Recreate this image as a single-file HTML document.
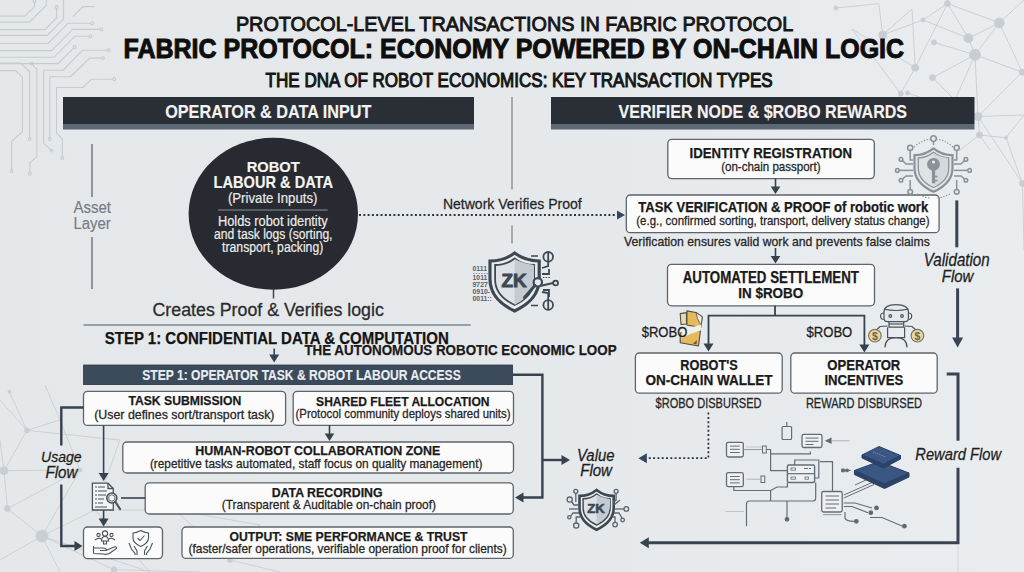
<!DOCTYPE html>
<html><head><meta charset="utf-8"><style>
html,body{margin:0;padding:0;background:#e6e9ec;}
svg{display:block;font-family:"Liberation Sans",sans-serif;}
</style></head><body>
<svg width="1024" height="572" viewBox="0 0 1024 572">
<defs><linearGradient id="bgg" x1="0" y1="0" x2="1" y2="0"><stop offset="0" stop-color="#e5e8eb"/><stop offset="0.55" stop-color="#e6e9ec"/><stop offset="1" stop-color="#eaedf0"/></linearGradient></defs>
<rect x="0" y="0" width="1024" height="572" fill="url(#bgg)"/>
<g fill="none" stroke="#c6cbd0" stroke-width="1.1">
<path d="M0,16.1 L24.9,16.1 L34.5,6.6 L34.5,1.5"/>
<path d="M0,22.1 L29.6,22.1 L46.2,5.5 L46.2,0"/>
<path d="M0,29.6 L44.8,29.6 L56.5,17.9 L56.5,8.3"/>
<path d="M0,35.4 L47.3,35.4 L63.6,19.1 L63.6,0"/>
<path d="M73,16.6 L83,6.6 L94.6,6.6"/>
<path d="M0,43.5 L48.1,43.5 L68.1,23.2 L90.8,23.2"/>
<path d="M0,50.6 L51.5,50.6 L72.7,29.4 L100,29.4"/>
<path d="M0,57.3 L54,57.3 L75,36.2 L89.2,36.2"/>
<path d="M0,63.6 L58.1,63.6 L73.8,47.9"/>
<path d="M32.5,64.6 L36.9,69 L36.9,156.4 L29.9,163 L29.9,172.5"/>
<path d="M0,63 L20.8,63 L29.6,71.8 L29.6,137.7"/>
<path d="M0,70.6 L15.8,70.6 L22.4,77.2 L22.4,131.5 L11.6,141.5 L11.6,170"/>
<path d="M43.5,143.1 L43.5,70.2 L63.1,70.2 L82.5,50.3 L107.5,50.3"/>
<path d="M51.5,150.6 L43.5,143.1"/>
<path d="M49.8,137.7 L49.8,76.7 L70.6,76.7 L89.7,58.1 L101.6,58.1"/>
<path d="M62.3,156.7 L62.3,139 L56.5,133.1 L56.5,87.5 L83,87.5 L91.3,79.2 L112.9,79.2"/>
<circle cx="34.5" cy="1" r="1.4"/>
<circle cx="56.5" cy="7" r="1.4"/>
<circle cx="92.1" cy="23.2" r="1.4"/>
<circle cx="101.3" cy="29.4" r="1.4"/>
<circle cx="90.5" cy="36.2" r="1.4"/>
<circle cx="74.7" cy="47" r="1.4"/>
<circle cx="31.5" cy="63.6" r="1.4"/>
<circle cx="108.8" cy="50.3" r="1.4"/>
<circle cx="102.9" cy="58.1" r="1.4"/>
<circle cx="114.2" cy="79.2" r="1.4"/>
<circle cx="11.6" cy="171.3" r="1.4"/>
<circle cx="29.6" cy="139" r="1.4"/>
<circle cx="29.9" cy="173.8" r="1.4"/>
<circle cx="51.5" cy="150.6" r="1.4"/>
<circle cx="49.8" cy="139" r="1.4"/>
<circle cx="62.3" cy="158" r="1.4"/>
</g>
<g stroke="#ccd0d4" stroke-width="1" fill="#c8cdd2">
<line x1="835.9" y1="8" x2="878.8" y2="3.6"/>
<line x1="878.8" y1="3.6" x2="882.7" y2="34.9"/>
<line x1="882.7" y1="34.9" x2="912" y2="9"/>
<line x1="912" y1="9" x2="915.2" y2="67.7"/>
<line x1="882.7" y1="34.9" x2="923" y2="19.9"/>
<line x1="923" y1="19.9" x2="947.5" y2="3.6"/>
<line x1="923" y1="19.9" x2="968.4" y2="38.2"/>
<line x1="947.5" y1="3.6" x2="968.4" y2="38.2"/>
<line x1="947.5" y1="3.6" x2="915.2" y2="67.7"/>
<line x1="947.5" y1="3.6" x2="999.3" y2="22.9"/>
<line x1="968.4" y1="38.2" x2="999.3" y2="22.9"/>
<line x1="968.4" y1="38.2" x2="975" y2="54.8"/>
<line x1="999.3" y1="22.9" x2="975" y2="54.8"/>
<line x1="933.9" y1="42.4" x2="975" y2="54.8"/>
<line x1="975" y1="54.8" x2="932.5" y2="77.7"/>
<line x1="975" y1="54.8" x2="1022.2" y2="72.1"/>
<line x1="999.3" y1="22.9" x2="1022.2" y2="72.1"/>
<line x1="999.3" y1="22.9" x2="1024" y2="0"/>
<line x1="852" y1="29" x2="900.7" y2="93.6"/>
<line x1="915.2" y1="67.7" x2="900.7" y2="93.6"/>
<line x1="852" y1="29" x2="915.2" y2="67.7"/>
<line x1="975" y1="54.8" x2="955" y2="100"/>
<line x1="932.5" y1="77.7" x2="955" y2="100"/>
<line x1="955" y1="100" x2="978" y2="116.5"/>
<line x1="978" y1="116.5" x2="1024" y2="115"/>
<line x1="978" y1="116.5" x2="979.5" y2="135"/>
<line x1="975" y1="54.8" x2="978" y2="116.5"/>
<line x1="979.5" y1="135" x2="990" y2="150"/>
<line x1="907.5" y1="93" x2="978" y2="116.5"/>
<line x1="979.5" y1="135" x2="960" y2="150"/>
<line x1="1022.2" y1="72.1" x2="978" y2="116.5"/>
<line x1="979.5" y1="135" x2="1006" y2="137.7"/>
<line x1="1006" y1="137.7" x2="1022.5" y2="183.5"/>
<line x1="978" y1="116.5" x2="1022.5" y2="183.5"/>
<line x1="1022.5" y1="183.5" x2="1024" y2="250"/>
<line x1="1006" y1="137.7" x2="1024" y2="115"/>
<circle cx="835.9" cy="8" r="2"/>
<circle cx="882.7" cy="34.9" r="4"/>
<circle cx="923" cy="19.9" r="2"/>
<circle cx="947.5" cy="3.6" r="3"/>
<circle cx="968.4" cy="38.2" r="4.5"/>
<circle cx="999.3" cy="22.9" r="5"/>
<circle cx="975" cy="54.8" r="5.5"/>
<circle cx="933.9" cy="42.4" r="2.5"/>
<circle cx="915.2" cy="67.7" r="3.5"/>
<circle cx="932.5" cy="77.7" r="3"/>
<circle cx="900.7" cy="93.6" r="2.5"/>
<circle cx="1022.2" cy="72.1" r="3"/>
<circle cx="907.5" cy="93" r="2"/>
<circle cx="978" cy="116.5" r="4"/>
<circle cx="979.5" cy="135" r="3"/>
<circle cx="1006" cy="137.7" r="1.5"/>
<circle cx="1022.5" cy="183.5" r="3"/>
</g>
<g stroke="#cdd1d5" stroke-width="1" fill="#c9ced2">
<line x1="9.4" y1="391.8" x2="26.9" y2="430.4"/>
<line x1="26.9" y1="430.4" x2="4" y2="470.7"/>
<line x1="26.9" y1="430.4" x2="60" y2="420"/>
<line x1="60" y1="420" x2="80" y2="470"/>
<line x1="4" y1="470.7" x2="7.4" y2="508.6"/>
<line x1="7.4" y1="508.6" x2="42" y2="536.1"/>
<line x1="42" y1="536.1" x2="114" y2="569.7"/>
<line x1="4" y1="470.7" x2="80" y2="470"/>
<line x1="80" y1="470" x2="42" y2="536.1"/>
<line x1="26.9" y1="430.4" x2="120" y2="440"/>
<line x1="42" y1="536.1" x2="95" y2="510"/>
<line x1="95" y1="510" x2="175" y2="510"/>
<line x1="175" y1="510" x2="230" y2="560"/>
<line x1="230" y1="560" x2="260" y2="525"/>
<line x1="42" y1="536.1" x2="0" y2="560"/>
<line x1="42" y1="536.1" x2="60" y2="572"/>
<line x1="95" y1="510" x2="150" y2="572"/>
<line x1="0" y1="440" x2="4" y2="470.7"/>
<line x1="0" y1="400" x2="26.9" y2="430.4"/>
<line x1="45" y1="385" x2="60" y2="420"/>
<line x1="7.4" y1="508.6" x2="80" y2="470"/>
<line x1="114" y1="569.7" x2="200" y2="572"/>
<line x1="175" y1="510" x2="260" y2="525"/>
<line x1="42" y1="536.1" x2="150" y2="572"/>
<line x1="230" y1="560" x2="280" y2="572"/>
<line x1="95" y1="510" x2="120" y2="440"/>
<circle cx="9.4" cy="391.8" r="1.5"/>
<circle cx="26.9" cy="430.4" r="2.5"/>
<circle cx="4" cy="470.7" r="4"/>
<circle cx="7.4" cy="508.6" r="3"/>
<circle cx="42" cy="536.1" r="6"/>
<circle cx="114" cy="569.7" r="3"/>
<circle cx="80" cy="470" r="2"/>
<circle cx="175" cy="510" r="2"/>
<circle cx="230" cy="560" r="2.5"/>
</g>
<text x="235.9" y="30.8" font-size="20.35" font-weight="normal" font-style="normal" fill="#161616" textLength="557.3" lengthAdjust="spacingAndGlyphs" stroke="#161616" stroke-width="0.9" paint-order="stroke">PROTOCOL-LEVEL TRANSACTIONS IN FABRIC PROTOCOL</text>
<text x="123.5" y="57.6" font-size="28.05" font-weight="bold" font-style="normal" fill="#0e0e0e" textLength="780.6" lengthAdjust="spacingAndGlyphs" stroke="#0e0e0e" stroke-width="1.0" paint-order="stroke">FABRIC PROTOCOL: ECONOMY POWERED BY ON-CHAIN LOGIC</text>
<text x="265.6" y="86.6" font-size="19.33" font-weight="normal" font-style="normal" fill="#161616" textLength="507.1" lengthAdjust="spacingAndGlyphs" stroke="#161616" stroke-width="1.05" paint-order="stroke">THE DNA OF ROBOT ECONOMICS: KEY TRANSACTION TYPES</text>
<rect x="63" y="97" width="411" height="27" fill="#2a2e36"/>
<rect x="63" y="124" width="411" height="5.5" fill="#5c6874"/>
<rect x="551" y="97" width="423.5" height="27" fill="#2a2e36"/>
<rect x="551" y="124" width="423.5" height="5.5" fill="#5c6874"/>
<text x="165.2" y="118.0" font-size="19.19" font-weight="bold" font-style="normal" fill="#f2f2f2" textLength="206.3" lengthAdjust="spacingAndGlyphs" stroke="#f2f2f2" stroke-width="0.15" paint-order="stroke">OPERATOR &amp; DATA INPUT</text>
<text x="618.6" y="118.4" font-size="19.04" font-weight="bold" font-style="normal" fill="#f2f2f2" textLength="288.4" lengthAdjust="spacingAndGlyphs" stroke="#f2f2f2" stroke-width="0.15" paint-order="stroke">VERIFIER NODE &amp; $ROBO REWARDS</text>
<path d="M512.0,97.0 L512.0,189.5" fill="none" stroke="#8d9399" stroke-width="1.5" stroke-linecap="butt" stroke-linejoin="miter"/>
<path d="M512.0,225.5 L512.0,243.5" fill="none" stroke="#8d9399" stroke-width="1.5" stroke-linecap="butt" stroke-linejoin="miter"/>
<path d="M92.0,144.0 L92.0,197.0" fill="none" stroke="#7a8188" stroke-width="1.6" stroke-linecap="butt" stroke-linejoin="miter"/>
<path d="M92.0,237.0 L92.0,289.0" fill="none" stroke="#7a8188" stroke-width="1.6" stroke-linecap="butt" stroke-linejoin="miter"/>
<text x="73.4" y="212.5" font-size="15.70" font-weight="normal" font-style="normal" fill="#737b83" textLength="37.5" lengthAdjust="spacingAndGlyphs" stroke="#737b83" stroke-width="0.15" paint-order="stroke">Asset</text>
<text x="73.4" y="229.0" font-size="15.70" font-weight="normal" font-style="normal" fill="#737b83" textLength="37.3" lengthAdjust="spacingAndGlyphs" stroke="#737b83" stroke-width="0.15" paint-order="stroke">Layer</text>
<ellipse cx="273.3" cy="213.8" rx="84.7" ry="76" fill="#272a30"/>
<text x="246.7" y="171.7" font-size="15.55" font-weight="bold" font-style="normal" fill="#f4f4f4" textLength="53.1" lengthAdjust="spacingAndGlyphs" stroke="#f4f4f4" stroke-width="0.15" paint-order="stroke">ROBOT</text>
<text x="213.6" y="187.9" font-size="15.99" font-weight="bold" font-style="normal" fill="#f4f4f4" textLength="119.4" lengthAdjust="spacingAndGlyphs" stroke="#f4f4f4" stroke-width="0.15" paint-order="stroke">LABOUR &amp; DATA</text>
<text x="227.9" y="203.3" font-size="14.10" font-weight="normal" font-style="normal" fill="#e8e8e8" textLength="89.6" lengthAdjust="spacingAndGlyphs" stroke="#e8e8e8" stroke-width="0.2" paint-order="stroke">(Private Inputs)</text>
<path d="M218.0,210.0 L327.7,210.0" fill="none" stroke="#8a8f95" stroke-width="1.2" stroke-linecap="butt" stroke-linejoin="miter"/>
<text x="217.9" y="225.5" font-size="14.39" font-weight="normal" font-style="normal" fill="#ececec" textLength="109.8" lengthAdjust="spacingAndGlyphs" stroke="#ececec" stroke-width="0.2" paint-order="stroke">Holds robot identity</text>
<text x="214.0" y="238.7" font-size="14.39" font-weight="normal" font-style="normal" fill="#ececec" textLength="118.5" lengthAdjust="spacingAndGlyphs" stroke="#ececec" stroke-width="0.2" paint-order="stroke">and task logs (sorting,</text>
<text x="222.1" y="251.7" font-size="14.39" font-weight="normal" font-style="normal" fill="#ececec" textLength="101.2" lengthAdjust="spacingAndGlyphs" stroke="#ececec" stroke-width="0.2" paint-order="stroke">transport, packing)</text>
<path d="M273.5,289.0 L273.5,298.5" fill="none" stroke="#3c4754" stroke-width="1.5" stroke-linecap="butt" stroke-linejoin="miter"/>
<path d="M359.0,215.0 L617.0,215.0" fill="none" stroke="#2f3640" stroke-width="1.8" stroke-dasharray="2 2.3" stroke-linecap="butt" stroke-linejoin="miter"/>
<polygon points="625.0,215.0 617.0,210.4 617.0,219.6" fill="#34465a"/>
<text x="442.9" y="209.2" font-size="15.55" font-weight="normal" font-style="normal" fill="#262626" textLength="138.8" lengthAdjust="spacingAndGlyphs" stroke="#262626" stroke-width="0.28" paint-order="stroke">Network Verifies Proof</text>
<text x="152.5" y="315.6" font-size="18.02" font-weight="normal" font-style="normal" fill="#2b2b2b" textLength="231.3" lengthAdjust="spacingAndGlyphs" stroke="#2b2b2b" stroke-width="0.28" paint-order="stroke">Creates Proof &amp; Verifies logic</text>
<path d="M83.6,325.0 L470.7,325.0" fill="none" stroke="#7f858c" stroke-width="1.4" stroke-linecap="butt" stroke-linejoin="miter"/>
<text x="104.7" y="343.9" font-size="16.42" font-weight="bold" font-style="normal" fill="#141414" textLength="344.1" lengthAdjust="spacingAndGlyphs" stroke="#141414" stroke-width="0.25" paint-order="stroke">STEP 1: CONFIDENTIAL DATA &amp; COMPUTATION</text>
<text x="304.4" y="354.5" font-size="14.10" font-weight="bold" font-style="normal" fill="#1a1a1a" textLength="312.2" lengthAdjust="spacingAndGlyphs" stroke="#1a1a1a" stroke-width="0.25" paint-order="stroke">THE AUTONOMOUS ROBOTIC ECONOMIC LOOP</text>
<path d="M274.2,348.5 L274.2,356.0" fill="none" stroke="#3c4754" stroke-width="1.6" stroke-linecap="butt" stroke-linejoin="miter"/>
<polygon points="274.2,362.5 269.2,354.5 279.2,354.5" fill="#36424e"/>
<rect x="83.6" y="365" width="429" height="19.6" fill="#3c4b5c" stroke="#2b3744" stroke-width="0.8"/>
<text x="142.3" y="380.4" font-size="14.10" font-weight="bold" font-style="normal" fill="#e9edf0" textLength="318.4" lengthAdjust="spacingAndGlyphs" stroke="#e9edf0" stroke-width="0.15" paint-order="stroke">STEP 1: OPERATOR TASK &amp; ROBOT LABOUR ACCESS</text>
<rect x="83.5" y="391.3" width="202.1" height="34.1" rx="4" fill="#fbfbfb" stroke="#5d646b" stroke-width="1.3"/>
<text x="128.4" y="405.2" font-size="13.66" font-weight="bold" font-style="normal" fill="#1a1a1a" textLength="112.9" lengthAdjust="spacingAndGlyphs" stroke="#1a1a1a" stroke-width="0.25" paint-order="stroke">TASK SUBMISSION</text>
<text x="94.2" y="418.7" font-size="12.60" font-weight="normal" font-style="normal" fill="#262626" textLength="180.3" lengthAdjust="spacingAndGlyphs" stroke="#262626" stroke-width="0.28" paint-order="stroke">(User defines sort/transport task)</text>
<rect x="293.2" y="391.3" width="220.3" height="34.0" rx="4" fill="#fbfbfb" stroke="#5d646b" stroke-width="1.3"/>
<text x="316.1" y="405.6" font-size="13.66" font-weight="bold" font-style="normal" fill="#1a1a1a" textLength="173.4" lengthAdjust="spacingAndGlyphs" stroke="#1a1a1a" stroke-width="0.25" paint-order="stroke">SHARED FLEET ALLOCATION</text>
<text x="295.5" y="417.8" font-size="12.60" font-weight="normal" font-style="normal" fill="#262626" textLength="215.0" lengthAdjust="spacingAndGlyphs" stroke="#262626" stroke-width="0.28" paint-order="stroke">(Protocol community deploys shared units)</text>
<path d="M329.5,425.3 L329.5,434.0" fill="none" stroke="#36424e" stroke-width="1.6" stroke-linecap="butt" stroke-linejoin="miter"/>
<polygon points="329.5,441.0 324.7,433.5 334.3,433.5" fill="#36424e"/>
<rect x="122.8" y="442.0" width="390.7" height="31.0" rx="4" fill="#fbfbfb" stroke="#5d646b" stroke-width="1.3"/>
<text x="195.3" y="455.2" font-size="13.08" font-weight="bold" font-style="normal" fill="#1a1a1a" textLength="244.9" lengthAdjust="spacingAndGlyphs" stroke="#1a1a1a" stroke-width="0.25" paint-order="stroke">HUMAN-ROBOT COLLABORATION ZONE</text>
<text x="149.9" y="468.2" font-size="12.60" font-weight="normal" font-style="normal" fill="#262626" textLength="332.5" lengthAdjust="spacingAndGlyphs" stroke="#262626" stroke-width="0.28" paint-order="stroke">(repetitive tasks automated, staff focus on quality management)</text>
<rect x="145.2" y="482.9" width="368.1" height="31.1" rx="4" fill="#fbfbfb" stroke="#5d646b" stroke-width="1.3"/>
<text x="271.7" y="497.0" font-size="13.66" font-weight="bold" font-style="normal" fill="#1a1a1a" textLength="110.9" lengthAdjust="spacingAndGlyphs" stroke="#1a1a1a" stroke-width="0.25" paint-order="stroke">DATA RECORDING</text>
<text x="221.8" y="509.4" font-size="12.60" font-weight="normal" font-style="normal" fill="#262626" textLength="214.2" lengthAdjust="spacingAndGlyphs" stroke="#262626" stroke-width="0.28" paint-order="stroke">(Transparent &amp; Auditable on-chain proof)</text>
<rect x="83.5" y="527.0" width="79.0" height="31.6" rx="4" fill="#fbfbfb" stroke="#5d646b" stroke-width="1.3"/>
<rect x="182.0" y="527.0" width="331.3" height="31.4" rx="4" fill="#fbfbfb" stroke="#5d646b" stroke-width="1.3"/>
<text x="229.5" y="540.8" font-size="13.66" font-weight="bold" font-style="normal" fill="#1a1a1a" textLength="238.0" lengthAdjust="spacingAndGlyphs" stroke="#1a1a1a" stroke-width="0.25" paint-order="stroke">OUTPUT: SME PERFORMANCE &amp; TRUST</text>
<text x="188.5" y="553.2" font-size="12.60" font-weight="normal" font-style="normal" fill="#262626" textLength="318.2" lengthAdjust="spacingAndGlyphs" stroke="#262626" stroke-width="0.28" paint-order="stroke">(faster/safer operations, verifiable operation proof for clients)</text>
<path d="M83.5,407.5 L61.3,407.5 L61.3,445.5" fill="none" stroke="#36424e" stroke-width="2.4" stroke-linecap="butt" stroke-linejoin="miter"/>
<path d="M61.3,484.4 L61.3,546.0 L75.0,546.0" fill="none" stroke="#36424e" stroke-width="2.4" stroke-linecap="butt" stroke-linejoin="miter"/>
<polygon points="82.5,546.0 74.5,541.0 74.5,551.0" fill="#36424e"/>
<text x="41.0" y="461.9" font-size="15.55" font-weight="normal" font-style="italic" fill="#1e1e1e" textLength="40.7" lengthAdjust="spacingAndGlyphs" stroke="#1e1e1e" stroke-width="0.28" paint-order="stroke">Usage</text>
<text x="45.4" y="478.0" font-size="15.84" font-weight="normal" font-style="italic" fill="#1e1e1e" textLength="32.1" lengthAdjust="spacingAndGlyphs" stroke="#1e1e1e" stroke-width="0.28" paint-order="stroke">Flow</text>
<path d="M103.6,425.4 L103.6,473.0" fill="none" stroke="#36424e" stroke-width="1.6" stroke-linecap="butt" stroke-linejoin="miter"/>
<polygon points="103.6,481.0 98.6,473.0 108.6,473.0" fill="#36424e"/>
<path d="M103.6,510.0 L103.6,519.0" fill="none" stroke="#36424e" stroke-width="1.6" stroke-linecap="butt" stroke-linejoin="miter"/>
<polygon points="103.6,526.5 98.6,518.5 108.6,518.5" fill="#36424e"/>
<path d="M121.0,498.0 L145.2,498.0" fill="none" stroke="#36424e" stroke-width="1.6" stroke-linecap="butt" stroke-linejoin="miter"/>
<path d="M512.7,374.8 L542.4,374.8 L542.4,497.5 L523.0,497.5" fill="none" stroke="#36424e" stroke-width="2.4" stroke-linecap="butt" stroke-linejoin="miter"/>
<polygon points="515.0,497.5 523.5,492.5 523.5,502.5" fill="#36424e"/>
<path d="M542.4,460.0 L562.0,460.0" fill="none" stroke="#36424e" stroke-width="2.4" stroke-linecap="butt" stroke-linejoin="miter"/>
<polygon points="570.0,460.0 561.5,455.0 561.5,465.0" fill="#36424e"/>
<text x="577.0" y="460.7" font-size="16.13" font-weight="normal" font-style="italic" fill="#1e1e1e" textLength="37.5" lengthAdjust="spacingAndGlyphs" stroke="#1e1e1e" stroke-width="0.28" paint-order="stroke">Value</text>
<text x="580.2" y="476.4" font-size="15.99" font-weight="normal" font-style="italic" fill="#1e1e1e" textLength="31.8" lengthAdjust="spacingAndGlyphs" stroke="#1e1e1e" stroke-width="0.28" paint-order="stroke">Flow</text>
<rect x="667.8" y="139.4" width="206.5" height="39.2" rx="4" fill="#fbfbfb" stroke="#5d646b" stroke-width="1.3"/>
<text x="689.6" y="158.3" font-size="15.26" font-weight="bold" font-style="normal" fill="#1a1a1a" textLength="162.4" lengthAdjust="spacingAndGlyphs" stroke="#1a1a1a" stroke-width="0.25" paint-order="stroke">IDENTITY REGISTRATION</text>
<text x="721.2" y="170.9" font-size="12.80" font-weight="normal" font-style="normal" fill="#262626" textLength="99.3" lengthAdjust="spacingAndGlyphs" stroke="#262626" stroke-width="0.28" paint-order="stroke">(on-chain passport)</text>
<path d="M775.5,178.6 L775.5,187.0" fill="none" stroke="#36424e" stroke-width="1.6" stroke-linecap="butt" stroke-linejoin="miter"/>
<polygon points="775.5,194.0 770.7,186.5 780.3,186.5" fill="#36424e"/>
<rect x="626.3" y="195.0" width="312.8" height="37.7" rx="4" fill="#fbfbfb" stroke="#5d646b" stroke-width="1.3"/>
<text x="638.3" y="211.8" font-size="13.81" font-weight="bold" font-style="normal" fill="#1a1a1a" textLength="289.9" lengthAdjust="spacingAndGlyphs" stroke="#1a1a1a" stroke-width="0.25" paint-order="stroke">TASK VERIFICATION &amp; PROOF of robotic work</text>
<text x="636.3" y="225.4" font-size="13.00" font-weight="normal" font-style="normal" fill="#262626" textLength="293.2" lengthAdjust="spacingAndGlyphs" stroke="#262626" stroke-width="0.28" paint-order="stroke">(e.g., confirmed sorting, transport, delivery status change)</text>
<text x="624.1" y="246.4" font-size="12.80" font-weight="normal" font-style="normal" fill="#262626" textLength="305.8" lengthAdjust="spacingAndGlyphs" stroke="#262626" stroke-width="0.28" paint-order="stroke">Verification ensures valid work and prevents false claims</text>
<path d="M775.5,248.0 L775.5,256.0" fill="none" stroke="#36424e" stroke-width="1.6" stroke-linecap="butt" stroke-linejoin="miter"/>
<polygon points="775.5,263.5 770.7,256.0 780.3,256.0" fill="#36424e"/>
<rect x="667.5" y="264.3" width="207.0" height="41.5" rx="4" fill="#fbfbfb" stroke="#5d646b" stroke-width="1.3"/>
<text x="682.7" y="283.3" font-size="15.99" font-weight="bold" font-style="normal" fill="#1a1a1a" textLength="176.2" lengthAdjust="spacingAndGlyphs" stroke="#1a1a1a" stroke-width="0.25" paint-order="stroke">AUTOMATED SETTLEMENT</text>
<text x="738.2" y="297.5" font-size="15.26" font-weight="bold" font-style="normal" fill="#1a1a1a" textLength="65.1" lengthAdjust="spacingAndGlyphs" stroke="#1a1a1a" stroke-width="0.25" paint-order="stroke">IN $ROBO</text>
<path d="M775.0,305.8 L775.0,315.7" fill="none" stroke="#36424e" stroke-width="1.8" stroke-linecap="butt" stroke-linejoin="miter"/>
<path d="M708.5,344.0 L708.5,315.7 L864.4,315.7 L864.4,345.0" fill="none" stroke="#36424e" stroke-width="1.8" stroke-linecap="butt" stroke-linejoin="miter"/>
<polygon points="708.5,351.5 703.5,343.5 713.5,343.5" fill="#36424e"/>
<polygon points="864.4,352.5 859.4,344.5 869.4,344.5" fill="#36424e"/>
<text x="806.5" y="336.7" font-size="14.68" font-weight="normal" font-style="normal" fill="#1e1e1e" textLength="45.8" lengthAdjust="spacingAndGlyphs" stroke="#1e1e1e" stroke-width="0.28" paint-order="stroke">$ROBO</text>
<rect x="635.4" y="353.0" width="146.8" height="40.2" rx="4" fill="#fbfbfb" stroke="#5d646b" stroke-width="1.3"/>
<text x="680.3" y="370.3" font-size="14.24" font-weight="bold" font-style="normal" fill="#1a1a1a" textLength="57.5" lengthAdjust="spacingAndGlyphs" stroke="#1a1a1a" stroke-width="0.25" paint-order="stroke">ROBOT'S</text>
<text x="645.5" y="385.1" font-size="15.12" font-weight="bold" font-style="normal" fill="#1a1a1a" textLength="127.1" lengthAdjust="spacingAndGlyphs" stroke="#1a1a1a" stroke-width="0.25" paint-order="stroke">ON-CHAIN WALLET</text>
<rect x="790.8" y="353.0" width="146.4" height="40.2" rx="4" fill="#fbfbfb" stroke="#5d646b" stroke-width="1.3"/>
<text x="827.3" y="370.3" font-size="14.24" font-weight="bold" font-style="normal" fill="#1a1a1a" textLength="73.0" lengthAdjust="spacingAndGlyphs" stroke="#1a1a1a" stroke-width="0.25" paint-order="stroke">OPERATOR</text>
<text x="824.4" y="385.1" font-size="15.12" font-weight="bold" font-style="normal" fill="#1a1a1a" textLength="79.0" lengthAdjust="spacingAndGlyphs" stroke="#1a1a1a" stroke-width="0.25" paint-order="stroke">INCENTIVES</text>
<text x="655.6" y="408.0" font-size="13.81" font-weight="normal" font-style="normal" fill="#262626" textLength="105.9" lengthAdjust="spacingAndGlyphs" stroke="#262626" stroke-width="0.28" paint-order="stroke">$ROBO DISBURSED</text>
<text x="805.9" y="408.0" font-size="13.81" font-weight="normal" font-style="normal" fill="#262626" textLength="116.1" lengthAdjust="spacingAndGlyphs" stroke="#262626" stroke-width="0.28" paint-order="stroke">REWARD DISBURSED</text>
<path d="M956.8,200.4 L956.8,247.3" fill="none" stroke="#3a4450" stroke-width="3" stroke-linecap="butt" stroke-linejoin="miter"/>
<text x="923.8" y="266.0" font-size="17.44" font-weight="normal" font-style="italic" fill="#1e1e1e" textLength="65.9" lengthAdjust="spacingAndGlyphs" stroke="#1e1e1e" stroke-width="0.28" paint-order="stroke">Validation</text>
<text x="941.8" y="281.5" font-size="15.99" font-weight="normal" font-style="italic" fill="#1e1e1e" textLength="31.6" lengthAdjust="spacingAndGlyphs" stroke="#1e1e1e" stroke-width="0.28" paint-order="stroke">Flow</text>
<path d="M957.6,288.4 L957.6,338.0" fill="none" stroke="#3a4450" stroke-width="3" stroke-linecap="butt" stroke-linejoin="miter"/>
<polygon points="957.6,347.5 952.1,337.5 963.1,337.5" fill="#3a4450"/>
<path d="M946.7,374.0 L958.0,374.0 L958.0,440.7" fill="none" stroke="#3a4450" stroke-width="3" stroke-linecap="butt" stroke-linejoin="miter"/>
<path d="M958.0,467.8 L958.0,542.7 L648.0,542.7" fill="none" stroke="#3a4450" stroke-width="3" stroke-linecap="butt" stroke-linejoin="miter"/>
<polygon points="639.8,542.7 648.8,537.2 648.8,548.2" fill="#3a4450"/>
<text x="915.3" y="459.8" font-size="17.30" font-weight="normal" font-style="italic" fill="#1e1e1e" textLength="85.8" lengthAdjust="spacingAndGlyphs" stroke="#1e1e1e" stroke-width="0.28" paint-order="stroke">Reward Flow</text>
<path d="M708.4,412.6 L708.4,458.2 L647.0,458.2" fill="none" stroke="#2f3640" stroke-width="1.8" stroke-dasharray="2 2.3" stroke-linecap="butt" stroke-linejoin="miter"/>
<polygon points="638.4,458.2 646.9,453.2 646.9,463.2" fill="#34465a"/>
<g>
<path d="M514.6,253 C505.99,259.4 496.15000000000003,261 490.0,261 L490.0,279.1 C490.0,296.5 502.3,305.2 514.6,311 C526.9,305.2 539.2,296.5 539.2,279.1 L539.2,261 C533.0500000000001,261 523.21,259.4 514.6,253 Z" fill="#e9ecef" stroke="#3e4853" stroke-width="3.2"/>
<path d="M514.6,258.5 C507.77500000000003,263.7 499.975,265.0 495.1,265.0 L495.1,279.425 C495.1,293.375 504.85,300.35 514.6,305 C524.35,300.35 534.1,293.375 534.1,279.425 L534.1,265.0 C529.225,265.0 521.4250000000001,263.7 514.6,258.5 Z" fill="#dde2e6" stroke="#3e4853" stroke-width="1.8"/>
<path d="M514.6,259 L514.6,305 C522,301 533,294 534,280 L534,265 C527,264 520,262 514.6,259 Z" fill="#c3cad1"/>
<text x="514" y="286.6" font-size="17.5" font-weight="bold" fill="#3e4853" stroke="#3e4853" stroke-width="0.9" text-anchor="middle" textLength="25" lengthAdjust="spacingAndGlyphs">ZK</text>
<circle cx="537.8" cy="282.3" r="4.2" fill="#e9ecef" stroke="#3e4853" stroke-width="2.2"/>
<path d="M535,285.5 L524.5,297.5" stroke="#3e4853" stroke-width="3" stroke-linecap="round"/>
<text x="472.6" y="270.8" font-size="6.8" font-weight="bold" fill="#56606a">0111</text>
<text x="472.6" y="280.2" font-size="6.8" font-weight="bold" fill="#56606a">1011</text>
<text x="472.6" y="286.8" font-size="6.8" font-weight="bold" fill="#56606a">9727</text>
<text x="472.6" y="294" font-size="6.8" font-weight="bold" fill="#56606a">0910-</text>
<text x="472.6" y="300.8" font-size="6.8" font-weight="bold" fill="#56606a">0011::</text>
<path d="M473,273.5 h15 M473,282.5 h15" stroke="#7a838c" stroke-width="0.8" stroke-dasharray="1.5 1.2"/>
<g fill="none" stroke="#3e4853" stroke-width="1.8">
<circle cx="548.2" cy="256.8" r="4.8"/><circle cx="548.2" cy="305" r="4.8"/><circle cx="555.6" cy="283" r="2.4"/>
<path d="M548.2,252 L548.2,266 L542,268"/><path d="M548.2,310 L548.2,293 L542,292"/>
<path d="M542,274 L549,274 L549,269"/><path d="M540,286 L553,283"/><path d="M543,290 L549,290 L549,297"/>
<path d="M531,256 L538,256" stroke-width="1.5"/><path d="M531,305.5 L538,305.5" stroke-width="1.5"/>
<path d="M543,277.5 L550,277.5" stroke-dasharray="1.5 1.2" stroke-width="1.2"/>
</g>
</g>
<g>
<path d="M596.6,489.9 C590.615,494.7 583.775,495.9 579.5,495.9 L579.5,507.81 C579.5,519.75 588.0500000000001,525.72 596.6,529.7 C605.15,525.72 613.7,519.75 613.7,507.81 L613.7,495.9 C609.4250000000001,495.9 602.585,494.7 596.6,489.9 Z" fill="#e9ecef" stroke="#3e4853" stroke-width="2.6"/>
<path d="M596.6,494 C591.875,497.84 586.475,498.8 583.1,498.8 L583.1,507.95 C583.1,517.25 589.85,521.9 596.6,525 C603.35,521.9 610.1,517.25 610.1,507.95 L610.1,498.8 C606.725,498.8 601.325,497.84 596.6,494 Z" fill="#dde2e6" stroke="#3e4853" stroke-width="1.4"/>
<path d="M596.6,494.5 L596.6,524.5 C602,521.5 609.5,516 610,505 L610,499 C605,498.5 600,496.5 596.6,494.5 Z" fill="#c3cad1"/>
<text x="596" y="512.6" font-size="13" font-weight="bold" fill="#3e4853" stroke="#3e4853" stroke-width="0.6" text-anchor="middle" textLength="17.5" lengthAdjust="spacingAndGlyphs">ZK</text>
<g fill="none" stroke="#5a646e" stroke-width="1.3">
<circle cx="575.8" cy="491.3" r="2"/>
<circle cx="569.7" cy="499.6" r="2.6"/>
<circle cx="576.2" cy="525.6" r="2.6"/>
<circle cx="569.3" cy="517.2" r="1.6"/>
<circle cx="616.1" cy="491.3" r="2"/>
<circle cx="626.3" cy="508.9" r="2.3"/>
<circle cx="622.6" cy="520" r="1.8"/>
<circle cx="615.1" cy="524.6" r="2.3"/>
<path d="M575.8,493.5 V502"/><path d="M571.5,501.5 L574,505 H579"/><path d="M569,509 H578"/><path d="M571,516 L573,513 H579"/><path d="M576.2,523 V517 H580"/>
<path d="M616.1,493.5 V500 L613,503"/><path d="M614,505 L620,500"/><path d="M614,509 H624"/><path d="M614,513 H619 L622,518"/><path d="M612,517 H615 V522"/>
</g></g>
<g fill="none" stroke="#8b9197" stroke-width="1.5">
<path d="M933.5,148.4 C926.85,153.84 919.25,155.20000000000002 914.5,155.20000000000002 L914.5,167.93 C914.5,180.95000000000002 924.0,187.46 933.5,191.8 C943.0,187.46 952.5,180.95000000000002 952.5,167.93 L952.5,155.20000000000002 C947.75,155.20000000000002 940.15,153.84 933.5,148.4 Z" fill="#e1e5e8" stroke="#8b9197" stroke-width="2.2"/>
<path d="M933.5,152.3 C928.18,156.78 922.1,157.9 918.3,157.9 L918.3,168.14000000000001 C918.3,178.7 925.9,183.98 933.5,187.5 C941.1,183.98 948.7,178.7 948.7,168.14000000000001 L948.7,157.9 C944.9,157.9 938.82,156.78 933.5,152.3 Z" fill="#dfe3e6" stroke="#8b9197" stroke-width="1.3"/>
<path d="M933.5,153 L933.5,187 C939,184 947,179 948,168 L948,158 C942,157.5 937,155.5 933.5,153 Z" fill="#d3d8dc" stroke="none"/>
<circle cx="933.5" cy="164.3" r="6.4" fill="#8b9197" stroke="none"/><circle cx="933.5" cy="162" r="1.5" fill="#eef0f2" stroke="none"/>
<path d="M933.5,168 V183.3" stroke-width="3.2"/><path d="M934,176.5 H937.5 M934,180.5 H937.5" stroke-width="1.6"/>
<circle cx="933.5" cy="138.6" r="2.8" fill="#e4e8eb"/>
<circle cx="910.2" cy="147.8" r="2.6" fill="#e4e8eb"/>
<circle cx="956.7" cy="147.8" r="2.6" fill="#e4e8eb"/>
<circle cx="901" cy="159.4" r="1.8" fill="#e4e8eb"/>
<circle cx="965.9" cy="159.4" r="1.8" fill="#e4e8eb"/>
<circle cx="897.3" cy="170.4" r="1.8" fill="#e4e8eb"/>
<circle cx="969.6" cy="170.4" r="1.8" fill="#e4e8eb"/>
<circle cx="901" cy="180.2" r="1.8" fill="#e4e8eb"/>
<circle cx="965.9" cy="180.2" r="1.8" fill="#e4e8eb"/>
<circle cx="910.2" cy="191.8" r="2.4" fill="#e4e8eb"/>
<circle cx="956.7" cy="191.8" r="2.4" fill="#e4e8eb"/>
<path d="M933.5,141.4 V145"/><path d="M910.2,150.4 V160 H913"/><path d="M956.7,150.4 V160 H954"/>
<path d="M902.5,160.5 L906,164 H913"/><path d="M964.4,160.5 L961,164 H954"/><path d="M899,170.4 H913"/><path d="M967.8,170.4 H954"/>
<path d="M902.5,179 L906,176 H913"/><path d="M964.4,179 L961,176 H954"/><path d="M910.2,189.4 V180"/><path d="M956.7,189.4 V180"/>
<path d="M914,147 Q922,140 931,139" stroke-dasharray="1.3 1.6" stroke-width="1.2"/><path d="M953,147 Q945,140 936,139" stroke-dasharray="1.3 1.6" stroke-width="1.2"/>
<path d="M917,194 Q925,198 931,198" stroke-dasharray="1.3 1.6" stroke-width="1.2"/><path d="M950,194 Q942,198 936,198" stroke-dasharray="1.3 1.6" stroke-width="1.2"/>
</g>
<g stroke="#4f4d44" stroke-width="1.1" stroke-linejoin="round">
<path d="M680.2,313.6 L686.5,312.6 L686.5,324 L681,324.5 Z" fill="#e8dcae"/>
<path d="M686.9,310.9 L696,312.5 L702.2,316.8 L701,327.5 L686.9,325 Z" fill="#e4ba5c"/>
<path d="M696,312.5 L702.2,316.8 L701.2,325.5 L697.5,318.5 Z" fill="#f2eee3" stroke-width="0.8"/>
<path d="M680.2,333 L700.5,330.5 L698.5,346 L680.2,342.8 Z" fill="#e4ba5c"/>
<path d="M682,329.5 Q692,327.5 701.5,324.5 L700.8,330.5 Q691,333 681.5,338.5 Z" fill="#f2efe6" stroke="none"/>
<path d="M693,343.5 L697,340 L696.5,344.5 Z" fill="#6b5a2e" stroke="none"/>
</g>
<g fill="none" stroke="#4a525b" stroke-width="1.2">
<path d="M884,312 Q884,304.6 896,304.6 Q908.4,304.6 908.4,312 V318.5 Q908.4,321.6 905,321.6 H887.5 Q884,321.6 884,318.5 Z" fill="#e6e9ec"/>
<path d="M884,309 Q896,312 908.4,309"/>
<path d="M883.9,313 Q880.6,313 880.6,316 Q880.6,319.5 883.9,319.5"/><path d="M908.4,313 Q911.7,313 911.7,316 Q911.7,319.5 908.4,319.5"/>
<circle cx="890.3" cy="316" r="1.3"/><circle cx="902" cy="316" r="1.3"/>
<path d="M889,321.6 V327.2 H903.7 V321.6"/><path d="M889,324 H903.7"/>
<path d="M887.6,327.2 V337.6 H904.6 V327.2"/><path d="M885,347.5 Q885,337.6 896,337.6 Q907,337.6 907,347.5"/>
<path d="M887.6,326 L880,326.5 L876.5,330"/><path d="M904.6,326 L912,326.5 L916,330"/>
</g>
<circle cx="874.9" cy="335.7" r="6.3" fill="#e6d8a6" stroke="#7d7658" stroke-width="1.2"/>
<text x="874.9" y="339.8" font-size="10.5" font-weight="bold" fill="#6b6448" text-anchor="middle">$</text>
<circle cx="917.4" cy="335.7" r="6.3" fill="#e6d8a6" stroke="#7d7658" stroke-width="1.2"/>
<text x="917.4" y="339.8" font-size="10.5" font-weight="bold" fill="#6b6448" text-anchor="middle">$</text>
<g fill="none" stroke="#4a525b" stroke-width="1.3">
<path d="M92.4,483.2 H108 L113.3,488.5 V510 H92.4 Z" fill="#f2f3f4"/>
<path d="M108,483.2 V488.5 H113.3"/>
<path d="M95,487 h2 M98,487 h7 M95,491 h2 M98,491 h9 M95,495 h2 M98,495 h8 M95,499 h2 M98,499 h6 M95,503 h2 M98,503 h5 M95,507 h12" stroke-width="1"/>
<circle cx="111.8" cy="498" r="5" fill="#eef0f2" stroke-width="1.6"/><circle cx="111.8" cy="498" r="3.2" stroke-width="0.8"/>
<path d="M115.5,502 L120,509" stroke-width="2.2" stroke-linecap="round"/>
</g>
<g fill="none" stroke="#4a525b" stroke-width="1.1">
<circle cx="105" cy="533.5" r="2.6"/><path d="M101.5,541 Q101.5,536.5 105,536.5 Q108.5,536.5 108.5,541 Z"/><path d="M103.5,541 V544 H106.5 V541"/>
<circle cx="98.5" cy="535" r="1.6"/><circle cx="111.5" cy="535" r="1.6"/><path d="M95,540 Q98.5,537 101,539"/><path d="M115,540 Q111.5,537 109,539"/>
<path d="M93.5,546 V553.5 M93.5,548 H103 Q107,548 106,550.5 H100 M106,550.5 L114,547 Q117,546 116.5,548.5 L110,553 Q107,555 103,554 L93.5,553.5"/>
<path d="M140.8,530.5 Q136,533 133,533 V538 Q133,543 140.8,546.5 Q148.5,543 148.5,538 V533 Q145.5,533 140.8,530.5 Z"/><path d="M137.5,538 L140,540.5 L144.5,535.5"/>
<path d="M129,543 L131.5,549 L135,553.5 V555 M137,555 V551 L134,546"/><path d="M152.5,543 L150,549 L146.5,553.5 V555 M144.5,555 V551 L147.5,546"/>
</g>
<g fill="none" stroke="#646d76" stroke-width="1.2">
<rect x="726.5" y="442.3" width="16.799999999999955" height="14.699999999999989" rx="1.8" fill="#eef0f2" stroke-width="1.3"/>
<path d="M730.0,446.1 H739.8" stroke-width="1"/>
<path d="M730.0,449.3 H739.8" stroke-width="1"/>
<path d="M730.0,452.5 H739.8" stroke-width="1"/>
<rect x="726.5" y="472.7" width="16.799999999999955" height="14.0" rx="1.8" fill="#eef0f2" stroke-width="1.3"/>
<path d="M730.0,476.5 H739.8" stroke-width="1"/>
<path d="M730.0,479.7 H739.8" stroke-width="1"/>
<path d="M730.0,482.9 H739.8" stroke-width="1"/>
<rect x="802" y="434.3" width="20" height="13.199999999999989" rx="1.8" fill="#eef0f2" stroke-width="1.3"/>
<path d="M805.5,438.1 H818.5" stroke-width="1"/>
<path d="M805.5,441.3 H818.5" stroke-width="1"/>
<path d="M805.5,444.5 H813.5" stroke-width="1"/>
<path d="M743.3,449.5 H762.5" stroke="#8a9097" stroke-width="0.9"/><path d="M746,447 H762" stroke="#b8bdc2" stroke-width="0.8"/>
<rect x="762.5" y="446" width="3.8" height="7" stroke-width="1"/>
<path d="M766.3,449.5 H770.6 V470.6 H787.4"/><path d="M770.6,453.8 H810.4 V451.5"/>
<rect x="782.1" y="426.5" width="9.5" height="13" rx="1"/><path d="M786.8,426.5 V422"/>
<path d="M826.2,440.8 L831,438.5 V443 Z" fill="#5b636c"/><path d="M832,440.8 H849.6" stroke="#a8adb3" stroke-width="0.9"/>
<rect x="787.4" y="465" width="27.2" height="17.5" rx="1.5" fill="#eef0f2" stroke-width="1.4"/><path d="M787.4,473.7 H814.6"/>
<rect x="791" y="468" width="4.5" height="2.2" stroke-width="0.8"/><rect x="791" y="477" width="4.5" height="2.2" stroke-width="0.8"/><path d="M804,468.5 h4 M809,468.5 h2" stroke-width="1.2"/><rect x="805" y="477" width="3.5" height="2.2" stroke-width="0.8"/>
<path d="M794.7,465 V460 H818.8 V478 H814.6"/><path d="M819.9,461.6 H832.5 V492.5"/>
<rect x="761" y="476" width="3.8" height="6.5" stroke-width="1"/><path d="M746.5,479.2 H761" stroke="#a8adb3" stroke-width="0.9"/>
<path d="M733.9,486.7 V490.5 H770.6 V501 M770.6,490.5 L777,487 H787.4 V482.5"/>
<path d="M746.5,526.2 V504 Q746.5,501 749.5,501 H813 Q815.7,501 815.7,498 V482.5"/>
<path d="M787,501 V517"/><circle cx="787" cy="519.3" r="1.8" fill="#5b636c"/>
<path d="M725.5,511.5 H744" stroke="#b8bdc2" stroke-width="0.9"/>
<rect x="821.7" y="491.5" width="20.5" height="20.5" rx="1.8" fill="#eef0f2" stroke-width="1.3"/><path d="M823,514.6 H841.5" stroke="#9aa0a6" stroke-width="1.2"/>
<path d="M825.5,496 H839 M825.5,500 H839 M825.5,504 H839 M825.5,508 H836" stroke-width="1"/>
<path d="M843.8,495 L872,482.5 M843.8,498 L874,484.5" stroke-width="1"/><path d="M855,485 L866,480" stroke-width="1"/>
<path d="M843.8,503 H855 L872,508" /><circle cx="876.5" cy="507.9" r="1.8" fill="#5b636c"/>
<path d="M843.8,506.5 H852 L868,512.7"/><circle cx="870.8" cy="512.7" r="1.8" fill="#5b636c"/>
<path d="M845,512 V518 Q846,521.3 854,521.3"/><circle cx="856.3" cy="521.3" r="1.8" fill="#5b636c"/>
<path d="M870,517.5 H882 L902,526"/><circle cx="904.4" cy="526.2" r="1.8" fill="#5b636c"/>
<path d="M842,470.4 H850.6"/><circle cx="843" cy="470.4" r="1.5" fill="#5b636c"/><circle cx="847" cy="470.4" r="1.3" fill="#5b636c"/>
</g>
<g stroke-linejoin="round">
<path d="M854.4,470.5 L879,461.5 L909,473 L884.5,484 Z" fill="#3a5682" stroke="#2a4064" stroke-width="1"/>
<path d="M854.4,470.5 L854.4,474.5 L884.5,488.5 L909,477 L909,473 L884.5,484 Z" fill="#2c4468" stroke="#2a4064" stroke-width="1"/>
<path d="M862,455 L879,446.5 L900.5,455.5 L883.5,464.5 Z" fill="#3a5682" stroke="#2a4064" stroke-width="1"/>
<path d="M862,455 L862,458 L883.5,468 L900.5,459 L900.5,455.5 L883.5,464.5 Z" fill="#2c4468" stroke="#2a4064" stroke-width="1"/>
<path d="M873,452 L886,457" stroke="#7f93b3" stroke-width="1" stroke-dasharray="1.2 0.8"/>
</g>
<text x="641.7" y="336.7" font-size="14.68" font-weight="normal" font-style="normal" fill="#1e1e1e" textLength="45.7" lengthAdjust="spacingAndGlyphs" stroke="#1e1e1e" stroke-width="0.28" paint-order="stroke">$ROBO</text>
<path d="M958.0,546.0 L958.0,572.0" fill="none" stroke="#d0d4d8" stroke-width="1" stroke-linecap="butt" stroke-linejoin="miter"/>
</svg>
</body></html>
